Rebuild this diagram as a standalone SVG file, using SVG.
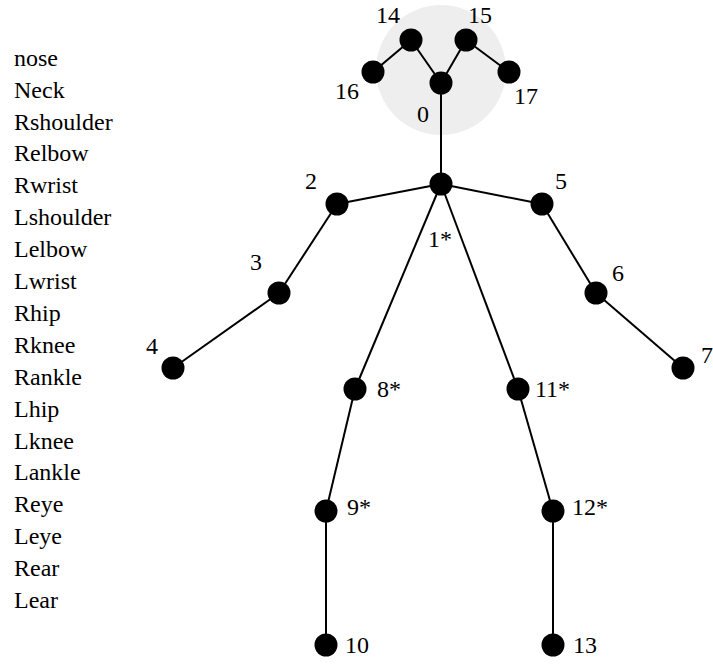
<svg xmlns="http://www.w3.org/2000/svg" width="713" height="664" viewBox="0 0 713 664" font-family="'Liberation Serif', Tinos, 'Times New Roman', 'DejaVu Serif', serif">
<style>
text{font-family:"Liberation Serif",Tinos,"Times New Roman","DejaVu Serif",serif;font-size:24px;fill:#000}
.n{fill:#000}
.e{stroke:#000;stroke-width:2;fill:none}
</style>
<rect width="713" height="664" fill="#fff"/>
<g id="legend" font-family="'Liberation Serif', serif">
<text x="14" y="66">nose</text>
<text x="14" y="98">Neck</text>
<text x="14" y="130">Rshoulder</text>
<text x="14" y="161">Relbow</text>
<text x="14" y="193">Rwrist</text>
<text x="14" y="225">Lshoulder</text>
<text x="14" y="257">Lelbow</text>
<text x="14" y="289">Lwrist</text>
<text x="14" y="321">Rhip</text>
<text x="14" y="353">Rknee</text>
<text x="14" y="385">Rankle</text>
<text x="14" y="417">Lhip</text>
<text x="14" y="449">Lknee</text>
<text x="14" y="480">Lankle</text>
<text x="14" y="512">Reye</text>
<text x="14" y="544">Leye</text>
<text x="14" y="576">Rear</text>
<text x="14" y="608">Lear</text>
</g>
<circle id="head" cx="441" cy="70" r="65" fill="#eeeeee"/>
<g id="connectors" class="e">
<line x1="441" y1="83" x2="441" y2="184"/>
<line x1="441" y1="83" x2="411" y2="40"/>
<line x1="411" y1="40" x2="373" y2="72"/>
<line x1="441" y1="83" x2="466" y2="40"/>
<line x1="466" y1="40" x2="509" y2="72"/>
<line x1="441" y1="184" x2="337" y2="204"/>
<line x1="337" y1="204" x2="279" y2="293"/>
<line x1="279" y1="293" x2="173" y2="368"/>
<line x1="441" y1="184" x2="542" y2="204"/>
<line x1="542" y1="204" x2="596" y2="293"/>
<line x1="596" y1="293" x2="683" y2="368"/>
<line x1="441" y1="184" x2="355" y2="389"/>
<line x1="355" y1="389" x2="326" y2="511"/>
<line x1="326" y1="511" x2="326" y2="645"/>
<line x1="441" y1="184" x2="518" y2="389"/>
<line x1="518" y1="389" x2="553" y2="511"/>
<line x1="553" y1="511" x2="553" y2="645"/>
</g>
<g id="node0"><circle class="n" cx="441" cy="83" r="11.5"/><text x="417" y="122">0</text></g>
<g id="node1"><circle class="n" cx="441" cy="184" r="11.5"/><text x="428" y="247">1*</text></g>
<g id="node2"><circle class="n" cx="337" cy="204" r="11.5"/><text x="305" y="189">2</text></g>
<g id="node3"><circle class="n" cx="279" cy="293" r="11.5"/><text x="250" y="270">3</text></g>
<g id="node4"><circle class="n" cx="173" cy="368" r="11.5"/><text x="146" y="354">4</text></g>
<g id="node5"><circle class="n" cx="542" cy="204" r="11.5"/><text x="555" y="189">5</text></g>
<g id="node6"><circle class="n" cx="596" cy="293" r="11.5"/><text x="612" y="281">6</text></g>
<g id="node7"><circle class="n" cx="683" cy="368" r="11.5"/><text x="701" y="363">7</text></g>
<g id="node8"><circle class="n" cx="355" cy="389" r="11.5"/><text x="377" y="397">8*</text></g>
<g id="node9"><circle class="n" cx="326" cy="511" r="11.5"/><text x="347" y="515">9*</text></g>
<g id="node10"><circle class="n" cx="326" cy="645" r="11.5"/><text x="345" y="653">10</text></g>
<g id="node11"><circle class="n" cx="518" cy="389" r="11.5"/><text x="535" y="397">11*</text></g>
<g id="node12"><circle class="n" cx="553" cy="511" r="11.5"/><text x="572" y="515">12*</text></g>
<g id="node13"><circle class="n" cx="553" cy="645" r="11.5"/><text x="573" y="653">13</text></g>
<g id="node14"><circle class="n" cx="411" cy="40" r="11.5"/><text x="376" y="23">14</text></g>
<g id="node15"><circle class="n" cx="466" cy="40" r="11.5"/><text x="468" y="23">15</text></g>
<g id="node16"><circle class="n" cx="373" cy="72" r="11.5"/><text x="335" y="99">16</text></g>
<g id="node17"><circle class="n" cx="509" cy="72" r="11.5"/><text x="514" y="104">17</text></g>
</svg>
